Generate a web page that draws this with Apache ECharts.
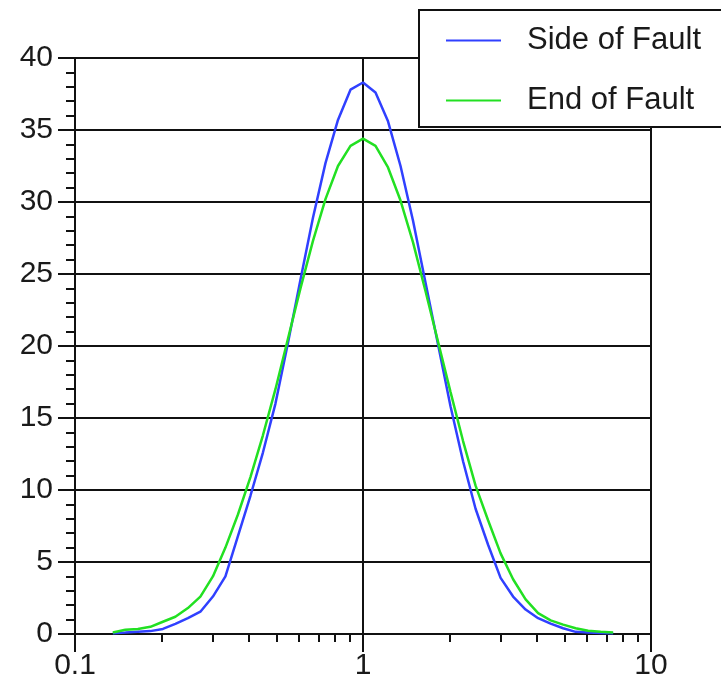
<!DOCTYPE html>
<html>
<head>
<meta charset="utf-8">
<script src="https://cdn.jsdelivr.net/npm/echarts@6/dist/echarts.min.js"></script>
<style>
  html, body { margin: 0; padding: 0; background: #fff; }
  #chart { width: 721px; height: 686px; }
</style>
</head>
<body>
<div id="chart"></div>
<script>
// x positions of the sampled points (log spaced)
const xVals = [0.1353, 0.1496, 0.1653, 0.1827, 0.2019, 0.2231, 0.2466, 0.2725, 0.3012, 0.3329,
  0.3679, 0.4066, 0.4493, 0.4966, 0.5488, 0.6065, 0.6703, 0.7408, 0.8187, 0.9048,
  1, 1.1052, 1.2214, 1.3499, 1.4918, 1.6487, 1.8221, 2.0138, 2.2255, 2.4596,
  2.7183, 3.0042, 3.3201, 3.6693, 4.0552, 4.4817, 4.9530, 5.4739, 6.0496, 6.6859, 7.3891];
const sideOfFault = [0.05, 0.1, 0.15, 0.2, 0.35, 0.7, 1.1, 1.55, 2.6, 4.0,
  6.8, 9.6, 12.6, 16.0, 20.2, 24.6, 28.9, 32.7, 35.7, 37.8,
  38.3, 37.6, 35.6, 32.5, 28.7, 24.4, 20.1, 15.8, 12.0, 8.7,
  6.2, 3.9, 2.6, 1.7, 1.1, 0.72, 0.4, 0.15, 0.1, 0.07, 0.05];
const endOfFault = [0.1, 0.3, 0.35, 0.5, 0.85, 1.2, 1.8, 2.6, 4.0, 6.0,
  8.3, 10.9, 13.8, 17.0, 20.5, 24.0, 27.3, 30.2, 32.5, 33.9,
  34.4, 33.9, 32.4, 30.1, 27.2, 23.8, 20.3, 16.8, 13.4, 10.3,
  7.9, 5.6, 3.8, 2.4, 1.45, 0.95, 0.65, 0.4, 0.22, 0.15, 0.1];
const minorX = [0.2, 0.3, 0.4, 0.5, 0.6, 0.7, 0.8, 0.9, 2, 3, 4, 5, 6, 7, 8, 9];

const font = 'Liberation Sans, Arial, Helvetica, sans-serif';
const black = '#111';
const textColor = '#1a1a1a';

var myChart = echarts.init(document.getElementById('chart'));
var option = {
  animation: false,
  grid: { left: 75, right: 70, top: 58, bottom: 52 },
  legend: {
    orient: 'vertical',
    left: 419,
    top: 10,
    padding: [15, 40, 11, 26],
    itemWidth: 55,
    itemHeight: 30,
    itemGap: 29,
    backgroundColor: '#fff',
    borderColor: black,
    borderWidth: 2,
    itemStyle: { opacity: 0 },
    lineStyle: { width: 2 },
    textStyle: { fontFamily: font, fontSize: 31, color: textColor, padding: [0, 0, 0, 21] },
    data: ['Side of Fault', 'End of Fault']
  },
  xAxis: [{
    type: 'log',
    logBase: 10,
    min: 0.1,
    max: 10,
    axisLine: { lineStyle: { color: black, width: 2 } },
    axisTick: { inside: false, length: 18, lineStyle: { color: black, width: 2 } },
    axisLabel: { fontFamily: font, fontSize: 30, color: textColor, margin: 17 },
    splitLine: { show: true, lineStyle: { color: black, width: 2 } }
  }, {
    type: 'log',
    logBase: 10,
    min: 0.1,
    max: 10,
    position: 'bottom',
    axisLine: { show: false },
    axisTick: { inside: false, length: 8, customValues: minorX, lineStyle: { color: black, width: 2 } },
    axisLabel: { show: false },
    splitLine: { show: false }
  }],
  yAxis: {
    type: 'value',
    min: 0,
    max: 40,
    interval: 5,
    axisLine: { show: true, lineStyle: { color: black, width: 2 } },
    axisTick: { show: true, inside: false, length: 17, lineStyle: { color: black, width: 2 } },
    minorTick: { show: true, splitNumber: 5, length: 9, lineStyle: { color: black, width: 2 } },
    axisLabel: { fontFamily: font, fontSize: 30, color: textColor, margin: 22 },
    splitLine: { show: true, lineStyle: { color: black, width: 2 } }
  },
  series: [{
    name: 'Side of Fault',
    type: 'line',
    symbol: 'none',
    lineStyle: { color: '#3040ff', width: 2.5 },
    itemStyle: { color: '#3040ff' },
    data: xVals.map((x, i) => [x, sideOfFault[i]])
  }, {
    name: 'End of Fault',
    type: 'line',
    symbol: 'none',
    lineStyle: { color: '#22e022', width: 2.5 },
    itemStyle: { color: '#22e022' },
    data: xVals.map((x, i) => [x, endOfFault[i]])
  }]
};
option && myChart.setOption(option);
</script>
</body>
</html>
